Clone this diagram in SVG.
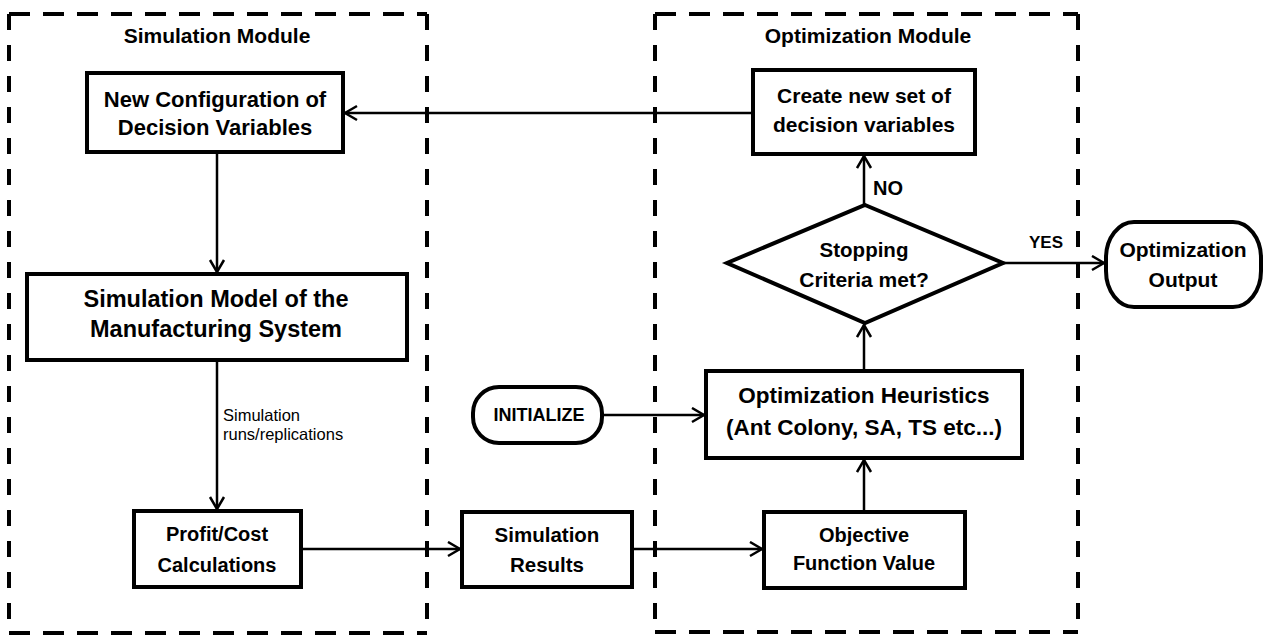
<svg xmlns="http://www.w3.org/2000/svg" width="1264" height="637" viewBox="0 0 1264 637">
<defs>
<style>
.box{fill:#fff;stroke:#000;stroke-width:4}
.dh{stroke:#000;stroke-width:4;stroke-dasharray:21 13;fill:none}
.dv{stroke:#000;stroke-width:4;stroke-dasharray:16 15;fill:none}
.conn{stroke:#000;stroke-width:2.5;fill:none;marker-end:url(#arr)}
.t{font-family:"Liberation Sans",Arial,sans-serif;font-weight:bold;text-anchor:middle;fill:#000}
.lab{font-family:"Liberation Sans",Arial,sans-serif;font-size:16.5px;fill:#000}
</style>
<marker id="arr" markerUnits="userSpaceOnUse" markerWidth="16" markerHeight="18" viewBox="-1 -1 16 18" refX="13" refY="7.5" orient="auto">
<path d="M1,0.5 L13,7.5 L1,14.5" fill="none" stroke="#000" stroke-width="2.5"/>
</marker>
</defs>
<g id="simulation-module">
<line class="dh" x1="9" y1="14" x2="427" y2="14"/>
<line class="dh" x1="9" y1="633" x2="427" y2="633"/>
<line class="dv" x1="9" y1="14" x2="9" y2="633"/>
<line class="dv" x1="427" y1="14" x2="427" y2="633"/>
<text class="t" x="217" y="43" font-size="21">Simulation Module</text>
</g>
<g id="optimization-module">
<line class="dh" x1="655" y1="14" x2="1078" y2="14"/>
<line class="dh" x1="655" y1="632" x2="1078" y2="632"/>
<line class="dv" x1="655" y1="14" x2="655" y2="632"/>
<line class="dv" x1="1078" y1="14" x2="1078" y2="632"/>
<text class="t" x="868" y="43" font-size="21">Optimization Module</text>
</g>
<g id="connectors">
<line class="conn" x1="753" y1="113" x2="345" y2="113"/>
<line class="conn" x1="217" y1="152" x2="217" y2="272"/>
<line class="conn" x1="217" y1="360" x2="217" y2="509"/>
<line class="conn" x1="301" y1="549" x2="460" y2="549"/>
<line class="conn" x1="632" y1="549" x2="762" y2="549"/>
<line class="conn" x1="864" y1="512" x2="864" y2="460"/>
<line class="conn" x1="602" y1="415" x2="704" y2="415"/>
<line class="conn" x1="864" y1="371" x2="864" y2="325"/>
<line class="conn" x1="864" y1="205" x2="864" y2="156"/>
<line class="conn" x1="1003" y1="263" x2="1104" y2="263"/>
<text class="lab" x="223" y="421">Simulation</text>
<text class="lab" x="223" y="440">runs/replications</text>
<text class="t" x="873" y="195" font-size="20" style="text-anchor:start">NO</text>
<text class="t" x="1029" y="248" font-size="17" style="text-anchor:start">YES</text>
</g>
<g id="new-config">
<rect class="box" x="87" y="73" width="256" height="79"/>
<text class="t" x="215" y="107" font-size="22">New Configuration of</text>
<text class="t" x="215" y="135" font-size="22">Decision Variables</text>
</g>
<g id="create-new-set">
<rect class="box" x="753" y="70" width="222" height="84"/>
<text class="t" x="864" y="103" font-size="21">Create new set of</text>
<text class="t" x="864" y="132" font-size="21">decision variables</text>
</g>
<g id="simulation-model">
<rect class="box" x="27" y="274" width="380" height="86"/>
<text class="t" x="216" y="307" font-size="23.5">Simulation Model of the</text>
<text class="t" x="216" y="337" font-size="23.5">Manufacturing System</text>
</g>
<g id="profit-cost">
<rect class="box" x="134" y="511" width="167" height="76"/>
<text class="t" x="217" y="541" font-size="20">Profit/Cost</text>
<text class="t" x="217" y="572" font-size="20">Calculations</text>
</g>
<g id="simulation-results">
<rect class="box" x="462" y="512" width="170" height="75"/>
<text class="t" x="547" y="542" font-size="20.5">Simulation</text>
<text class="t" x="547" y="572" font-size="20.5">Results</text>
</g>
<g id="objective">
<rect class="box" x="764" y="512" width="201" height="76"/>
<text class="t" x="864" y="542" font-size="20">Objective</text>
<text class="t" x="864" y="570" font-size="20">Function Value</text>
</g>
<g id="initialize">
<rect class="box" x="473" y="387" width="129" height="56" rx="26" ry="26"/>
<text class="t" x="539" y="421" font-size="18">INITIALIZE</text>
</g>
<g id="heuristics">
<rect class="box" x="706" y="371" width="316" height="87"/>
<text class="t" x="864" y="403" font-size="22.5">Optimization Heuristics</text>
<text class="t" x="864" y="435" font-size="22.5">(Ant Colony, SA, TS etc...)</text>
</g>
<g id="stopping">
<polygon class="box" points="865,205 1003,263 865,323 727,263"/>
<text class="t" x="864" y="257" font-size="20.5">Stopping</text>
<text class="t" x="864" y="287" font-size="21">Criteria met?</text>
</g>
<g id="optimization-output">
<rect class="box" x="1106" y="222" width="155" height="85" rx="28" ry="36"/>
<text class="t" x="1183" y="257" font-size="21">Optimization</text>
<text class="t" x="1183" y="287" font-size="21">Output</text>
</g>
</svg>
